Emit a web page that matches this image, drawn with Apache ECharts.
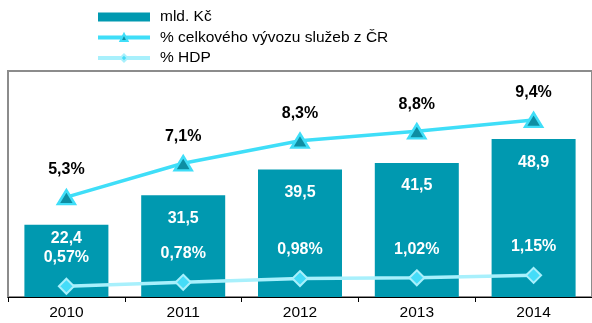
<!DOCTYPE html>
<html>
<head>
<meta charset="utf-8">
<script src="https://cdn.jsdelivr.net/npm/echarts@6/dist/echarts.min.js"></script>
<style>
  html, body { margin: 0; padding: 0; background: #fff; }
  #chart { width: 592px; height: 323px; }
</style>
</head>
<body>
<div id="chart"></div>
<script>
// Export of services: value in bn CZK and shares
const years = ['2010', '2011', '2012', '2013', '2014'];
const exportBn = [22.4, 31.5, 39.5, 41.5, 48.9];          // mld. Kč
const shareOfServices = [5.3, 7.1, 8.3, 8.8, 9.4];         // % celkového vývozu služeb z ČR
const shareOfGdp = [0.57, 0.78, 0.98, 1.02, 1.15];         // % HDP

const FONT = 'Liberation Sans, Arial, sans-serif';
const comma = (v, d) => v.toFixed(d).replace('.', ',');

const chart = echarts.init(document.getElementById('chart'), null, { renderer: 'canvas' });

chart.setOption({
  animation: false,
  textStyle: { fontFamily: FONT },
  legend: {
    orient: 'vertical',
    left: 91,
    top: 4,
    itemWidth: 52,
    itemHeight: 9,
    itemGap: 4.5,
    lineStyle: { width: 4 },
    textStyle: { fontSize: 15.5, lineHeight: 16, color: '#000', fontFamily: FONT, padding: [0, 0, 0, 5] },
    data: [
      { name: 'mld. Kč', icon: 'rect' },
      '% celkového vývozu služeb z ČR',
      '% HDP'
    ]
  },
  grid: {
    left: 8, right: -4, top: 71, bottom: 26,
    show: true, borderColor: '#8c8c8c', borderWidth: 2, backgroundColor: 'transparent'
  },
  xAxis: {
    type: 'category',
    data: years,
    axisLine: { lineStyle: { color: '#000', width: 1 } },
    axisTick: { show: true, length: 5, lineStyle: { color: '#000' } },
    axisLabel: { color: '#000', fontSize: 15.5, margin: 8, fontFamily: FONT }
  },
  yAxis: [
    { type: 'value', min: 0, max: 70, show: false, splitLine: { show: false } },
    { type: 'value', min: 0, max: 12, show: false, splitLine: { show: false } }
  ],
  series: [
    {
      name: 'mld. Kč',
      type: 'bar',
      yAxisIndex: 0,
      barWidth: 84,
      itemStyle: { color: '#0099b0' },
      data: exportBn.map((v, i) => ({
        value: v,
        label: { distance: i === 0 ? 6 : 15 }
      })),
      label: {
        show: true,
        position: 'insideTop',
        color: '#fff',
        fontWeight: 'bold',
        fontSize: 16,
        fontFamily: FONT,
        formatter: p => comma(p.value, 1)
      },
      z: 1
    },
    {
      name: '% celkového vývozu služeb z ČR',
      type: 'line',
      yAxisIndex: 1,
      data: shareOfServices,
      symbol: 'triangle',
      symbolSize: [17, 14],
      lineStyle: { color: '#3fdef8', width: 3.5 },
      itemStyle: { color: '#0e8ea3', borderColor: '#3fdef8', borderWidth: 2.5 },
      label: {
        show: true,
        position: 'top',
        distance: 11,
        color: '#000',
        fontWeight: 'bold',
        fontSize: 16,
        fontFamily: FONT,
        formatter: p => comma(p.value, 1) + '%'
      },
      z: 3
    },
    {
      name: '% HDP',
      type: 'line',
      yAxisIndex: 1,
      data: shareOfGdp,
      symbol: 'diamond',
      symbolSize: 15,
      lineStyle: { color: '#a8f0fc', width: 3.5 },
      itemStyle: { color: '#45dcf8', borderColor: '#a8f0fc', borderWidth: 2 },
      label: {
        show: true,
        position: 'top',
        distance: 12,
        color: '#fff',
        fontWeight: 'bold',
        fontSize: 16,
        fontFamily: FONT,
        formatter: p => comma(p.value, 2) + '%'
      },
      z: 3
    }
  ]
});
</script>
</body>
</html>
